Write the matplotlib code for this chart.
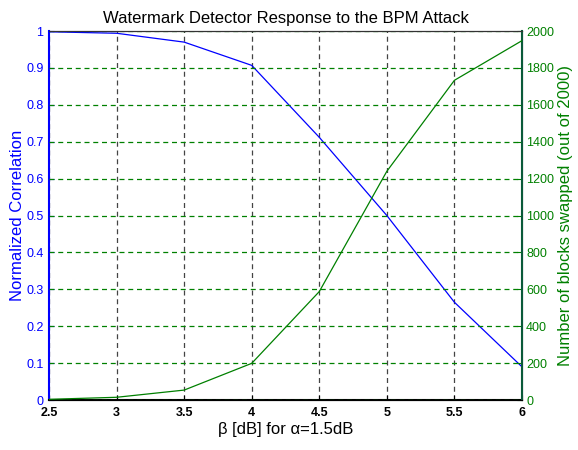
import matplotlib.pyplot as plt

plt.rcParams['font.family'] = ['Liberation Sans', 'DejaVu Sans']

beta = [2.5, 3.0, 3.5, 4.0, 4.5, 5.0, 5.5, 6.0]
correlation = [0.998, 0.994, 0.97, 0.907, 0.712, 0.5, 0.265, 0.09]
blocks_swapped = [4, 15, 54, 199, 588, 1240, 1733, 1948]

fig = plt.figure(figsize=(5.78, 4.5), dpi=100)
ax = fig.add_axes([0.0848, 0.111, 0.8183, 0.82])
ax2 = ax.twinx()

ax.plot(beta, correlation, color='#0000ff', lw=0.9, zorder=3)
ax2.plot(beta, blocks_swapped, color='#008000', lw=0.9, zorder=3)

ax.set_xlim(2.5, 6)
ax.set_ylim(0, 1)
ax2.set_ylim(0, 2000)
ax.set_xticks([2.5, 3, 3.5, 4, 4.5, 5, 5.5, 6])
ax.set_xticklabels(['2.5', '3', '3.5', '4', '4.5', '5', '5.5', '6'], fontweight='bold')
ax.set_yticks([i / 10 for i in range(11)])
ax.set_yticklabels(['0', '0.1', '0.2', '0.3', '0.4', '0.5', '0.6', '0.7', '0.8', '0.9', '1'])
ax2.set_yticks(range(0, 2001, 200))

ax.xaxis.grid(True, color='#444444', linestyle=(0, (4, 3)), lw=0.9)
ax2.yaxis.grid(True, color='#008000', linestyle=(0, (4, 3)), lw=0.9)
ax.set_axisbelow(True)

ax.tick_params(axis='x', direction='in', labelsize=9, colors='black', pad=5)
ax.tick_params(axis='y', direction='in', labelsize=9, colors='#0000ff', pad=4)
ax2.tick_params(axis='y', direction='in', labelsize=9, colors='#008000', pad=3)
ax2.tick_params(axis='x', direction='in')

ax.spines['left'].set_color('#0000ff')
ax.spines['left'].set_linewidth(1.5)
ax2.spines['right'].set_color('#0a5a3a')
ax2.spines['right'].set_linewidth(1.5)
ax2.spines['left'].set_visible(False)
ax.spines['bottom'].set_linewidth(1.5)
ax2.spines['top'].set_color('#333333')

ax.set_xlabel('β [dB] for α=1.5dB', fontsize=12, labelpad=2)
ax.set_ylabel('Normalized Correlation', fontsize=12, color='#0000ff', labelpad=1)
ax2.set_ylabel('Number of blocks swapped (out of 2000)', fontsize=12, color='#008000', labelpad=3)
ax.set_title('Watermark Detector Response to the BPM Attack', fontsize=12, pad=6)

fig.savefig('out.png', dpi=100)
